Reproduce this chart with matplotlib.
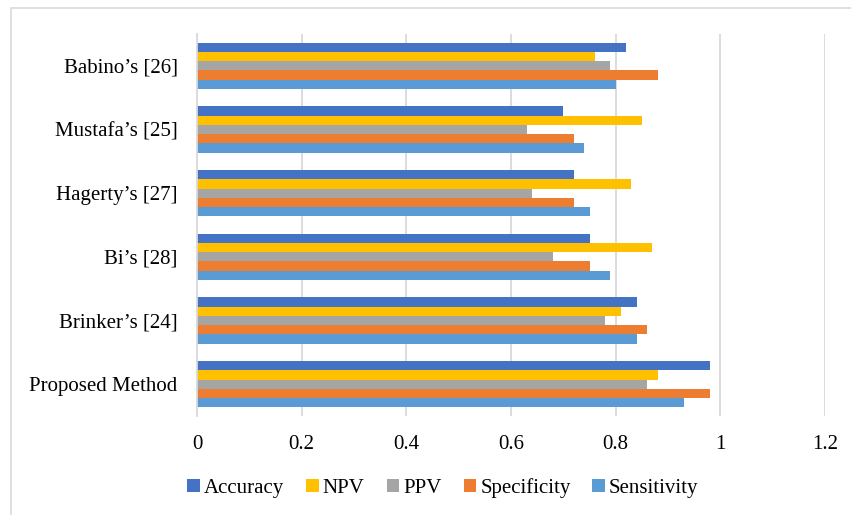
import matplotlib
matplotlib.use("Agg")
import matplotlib.pyplot as plt
from matplotlib.patches import Rectangle
import numpy as np

plt.rcParams['font.family'] = ['Liberation Serif', 'DejaVu Serif']

# Methods, listed from top to bottom
methods = ["Babino\u2019s [26]", "Mustafa\u2019s [25]", "Hagerty\u2019s [27]",
           "Bi\u2019s [28]", "Brinker\u2019s [24]", "Proposed Method"]

# Metric values per method (same order as methods)
accuracy    = [0.82, 0.70, 0.72, 0.75, 0.84, 0.98]
npv         = [0.76, 0.85, 0.83, 0.87, 0.81, 0.88]
ppv         = [0.79, 0.63, 0.64, 0.68, 0.78, 0.86]
specificity = [0.88, 0.72, 0.72, 0.75, 0.86, 0.98]
sensitivity = [0.80, 0.74, 0.75, 0.79, 0.84, 0.93]

series_names = ["Accuracy", "NPV", "PPV", "Specificity", "Sensitivity"]
series_values = [accuracy, npv, ppv, specificity, sensitivity]
series_colors = ["#4472C4", "#FFC000", "#A5A5A5", "#ED7D31", "#5B9BD5"]

x_ticks = [0, 0.2, 0.4, 0.6, 0.8, 1.0, 1.2]
x_tick_labels = ["0", "0.2", "0.4", "0.6", "0.8", "1", "1.2"]

W, H = 851, 515
fig = plt.figure(figsize=(W / 100, H / 100), dpi=100)
ax = fig.add_axes([197 / W, (H - 416) / H, (825 - 197) / W, (416 - 34) / H])

# Outer chart border
fig.patches.append(Rectangle((11 / W, -0.05), 1.2, (H - 8) / H + 0.05,
                             transform=fig.transFigure, fill=False,
                             edgecolor="#D9D9D9", linewidth=1.2))

y = np.arange(len(methods))
bar_h = 0.145
n = len(series_names)
for k, (name, vals, col) in enumerate(zip(series_names, series_values, series_colors)):
    offset = (k - (n - 1) / 2) * bar_h
    ax.barh(y + offset, vals, height=bar_h, color=col, label=name,
            edgecolor="none", zorder=3)

ax.set_xlim(0, 1.2)
ax.set_ylim(len(methods) - 0.5, -0.5)
ax.set_xticks(x_ticks)
ax.set_xticklabels(x_tick_labels)
ax.set_yticks(y)
ax.set_yticklabels(methods)
ax.tick_params(axis="both", length=0, labelsize=15, colors="black")
ax.tick_params(axis="y", pad=14)
ax.tick_params(axis="x", pad=14)

ax.grid(axis="x", color="#D9D9D9", linewidth=1.3, zorder=0)
for s in ["top", "right", "bottom"]:
    ax.spines[s].set_visible(False)
ax.spines["left"].set_color("#D9D9D9")
ax.spines["left"].set_linewidth(1.3)
ax.spines["left"].set_zorder(4)

ax.legend(loc="center", bbox_to_anchor=(443 / W, (H - 488) / H),
          bbox_transform=fig.transFigure, ncol=5, frameon=False,
          fontsize=15, handlelength=0.6, handleheight=0.6,
          handletextpad=0.2, columnspacing=1.05, borderaxespad=0)

fig.savefig("out.png", dpi=100)
